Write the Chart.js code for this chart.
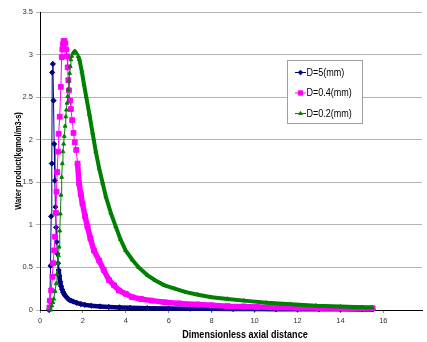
<!DOCTYPE html>
<html><head><meta charset="utf-8">
<script src="https://cdn.jsdelivr.net/npm/chart.js@4.4.1/dist/chart.umd.min.js"></script>
<style>html,body{margin:0;padding:0;background:#fff;}#wrap{width:427px;height:342px;position:relative;}</style>
</head><body><div id="wrap"><canvas id="c" width="427" height="342"></canvas></div>
<script>
const seriesLabels = ['D=5(mm)', 'D=0.4(mm)', 'D=0.2(mm)'];

const d5X = [0.42,0.46,0.49,0.52,0.55,0.57,0.60,0.63,0.66,0.69,0.72,0.75,0.78,0.81,0.84,0.87,0.90,0.94,0.98,1.03,1.08,1.14,1.20,1.28,1.36,1.45,1.55,1.70,1.90,2.10,2.40,2.80,3.20,3.70,4.20,5.00,6.00,7.00,8.00,9.00,10.0,11.0,12.0,13.0,14.0,15.0,15.5];
const d5Y = [0.00,0.10,0.52,1.10,1.72,2.79,2.89,2.46,1.95,1.52,1.21,0.97,0.80,0.66,0.55,0.47,0.40,0.33,0.28,0.24,0.21,0.18,0.16,0.14,0.12,0.11,0.10,0.085,0.07,0.06,0.05,0.042,0.036,0.03,0.026,0.022,0.018,0.016,0.014,0.012,0.011,0.010,0.009,0.008,0.008,0.007,0.007];

const d04X = [0.44,0.46,0.52,0.58,0.61,0.66,0.70,0.74,0.77,0.80,0.84,0.87,0.92,0.97,1.01,1.04,1.07,1.10,1.14,1.18,1.22,1.26,1.29,1.32,1.35,1.40,1.44,1.50,1.56,1.62,1.69,1.75,1.82,1.90,1.98,2.10,2.21,2.35,2.51,2.76,2.97,3.22,3.45,3.68,4.00,4.29,4.70,5.20,5.82,6.50,7.36,8.00,8.74,9.50,10.1,11.0,12.0,13.0,14.0,15.0,15.5];
const d04Y = [0.03,0.11,0.23,0.39,0.55,0.70,0.86,1.14,1.39,1.62,1.86,2.07,2.27,2.62,2.97,3.06,3.12,3.16,3.16,3.13,3.06,2.98,2.85,2.70,2.58,2.46,2.36,2.23,2.08,1.97,1.88,1.72,1.49,1.36,1.25,1.10,0.98,0.84,0.70,0.58,0.47,0.35,0.29,0.23,0.19,0.15,0.13,0.11,0.09,0.077,0.065,0.055,0.045,0.04,0.035,0.03,0.027,0.024,0.022,0.02,0.02];

const d02X = [0.50,0.55,0.60,0.64,0.70,0.75,0.79,0.83,0.86,0.89,0.92,0.95,0.98,1.01,1.04,1.07,1.10,1.13,1.17,1.20,1.23,1.26,1.29,1.32,1.35,1.38,1.41,1.44,1.48,1.52,1.57,1.62,1.67,1.72,1.78,1.84,1.95,2.05,2.15,2.30,2.45,2.60,2.76,2.92,3.07,3.30,3.53,3.75,3.99,4.30,4.60,5.00,5.36,5.80,6.28,6.80,7.36,8.00,8.74,9.50,10.57,11.7,12.87,14.0,15.0,15.48];
const d02Y = [0.00,0.05,0.09,0.13,0.22,0.31,0.42,0.55,0.64,0.74,0.93,1.13,1.35,1.56,1.72,1.86,1.95,2.04,2.16,2.27,2.35,2.43,2.51,2.59,2.69,2.78,2.86,2.94,2.98,3.01,3.03,3.04,3.03,3.01,2.98,2.94,2.80,2.65,2.51,2.30,2.08,1.86,1.66,1.49,1.33,1.14,0.98,0.83,0.70,0.59,0.50,0.41,0.35,0.29,0.25,0.21,0.18,0.15,0.13,0.11,0.085,0.067,0.05,0.04,0.033,0.03];

const xTickValues = [0,2,4,6,8,10,12,14,16];
const yTickValues = [0,0.5,1,1.5,2,2.5,3,3.5];
const xAxisTitle = 'Dimensionless axial distance';
const yAxisTitle = 'Water product(kgmol/m3-s)';

function pts(xs, ys) { return xs.map((x, i) => ({ x: x, y: ys[i] })); }

const colors = ['#000080', '#FF00FF', '#008000'];
const styles = ['rectRot', 'rect', 'triangle'];
const radii = [2.6, 3.4, 2.2];
const tailFrom = [0.85, 1.7, 1.75];
const tailWidth = [4.5, 5.5, 4];

const ctxC = document.getElementById('c').getContext('2d');
function hasNarrow() {
  const t = 'Dimensionless axial distance';
  ctxC.font = 'bold 11px "Liberation Sans Narrow", monospace';
  const a = ctxC.measureText(t).width;
  ctxC.font = 'bold 11px monospace';
  const b = ctxC.measureText(t).width;
  return Math.abs(a - b) > 1;
}
const NARROW = hasNarrow();
function narrowText(ctx, text, x, y, weight, size, align) {
  ctx.save();
  ctx.translate(x, y);
  if (NARROW) {
    ctx.font = weight + ' ' + size + 'px "Liberation Sans Narrow"';
  } else {
    ctx.font = weight + ' ' + size + 'px "Liberation Sans", Arial, sans-serif';
    ctx.scale(0.82, 1);
  }
  ctx.textAlign = align;
  ctx.textBaseline = 'middle';
  ctx.fillText(text, 0, 0);
  ctx.restore();
}

const xy = [pts(d5X, d5Y), pts(d04X, d04Y), pts(d02X, d02Y)];
const datasets = xy.map((d, i) => ({
  label: seriesLabels[i],
  data: d,
  borderColor: colors[i],
  backgroundColor: colors[i],
  borderWidth: 1,
  pointStyle: styles[i],
  pointRadius: radii[i],
  pointBorderWidth: 1,
  pointBorderColor: colors[i],
  pointBackgroundColor: colors[i],
  tension: 0,
  clip: false,
  order: 3 - i,
  segment: { borderWidth: c => (c.p0.parsed.x >= tailFrom[i] ? tailWidth[i] : 1) }
}));

const overlay = {
  id: 'overlay',
  afterDraw(chart) {
    const ctx = chart.ctx;
    ctx.fillStyle = '#000';
    narrowText(ctx, xAxisTitle, 245, 335, 'bold', 11, 'center');
    ctx.save();
    ctx.translate(18, 161);
    ctx.rotate(-Math.PI / 2);
    narrowText(ctx, yAxisTitle, 0, 0, 'bold', 9.2, 'center');
    ctx.restore();
    ctx.save();
    ctx.fillStyle = '#fff';
    ctx.fillRect(287, 60, 76, 64);
    ctx.strokeStyle = '#a0a0a0';
    ctx.lineWidth = 1;
    ctx.strokeRect(287.5, 60.5, 75, 63);
    const ys = [72, 92.5, 113];
    for (let i = 0; i < 3; i++) {
      ctx.strokeStyle = colors[i];
      ctx.lineWidth = 1;
      ctx.beginPath();
      ctx.moveTo(295, ys[i] + 0.5);
      ctx.lineTo(306, ys[i] + 0.5);
      ctx.stroke();
      ctx.fillStyle = colors[i];
      Chart.helpers.drawPoint(ctx, { pointStyle: styles[i], radius: radii[i] * 0.9, borderWidth: 1, rotation: 0 }, 300.5, ys[i] + 0.5);
      ctx.fillStyle = '#000';
      narrowText(ctx, seriesLabels[i], 306.5, ys[i] + 0.5, 'normal', 11, 'left');
    }
    ctx.restore();
  }
};

new Chart(ctxC, {
  type: 'line',
  data: { datasets: datasets },
  plugins: [overlay],
  options: {
    responsive: false,
    animation: false,
    devicePixelRatio: 1,
    layout: { padding: { left: 0, right: 0, top: 12, bottom: 0 } },
    plugins: { legend: { display: false }, tooltip: { enabled: false } },
    scales: {
      x: {
        type: 'linear', min: 0, max: 17.8,
        afterBuildTicks: s => { s.ticks = xTickValues.map(v => ({ value: v })); },
        afterFit: s => { s.height = 32; },
        ticks: { font: { size: 7.5, family: '"Liberation Sans", Arial' }, color: '#333', padding: 3, maxRotation: 0, autoSkip: false, callback: v => String(v) },
        grid: { drawOnChartArea: false, drawTicks: true, tickLength: 3, color: '#888' },
        border: { color: '#000', width: 1 }
      },
      y: {
        type: 'linear', min: 0, max: 3.5,
        afterBuildTicks: s => { s.ticks = yTickValues.map(v => ({ value: v })); },
        afterFit: s => { s.width = 40; },
        ticks: { font: { size: 7.5, family: '"Liberation Sans", Arial' }, color: '#333', padding: 3, autoSkip: false, callback: v => String(v) },
        grid: { color: '#b4b4b4', drawTicks: true, tickLength: 4 },
        border: { color: '#000', width: 1 }
      }
    }
  }
});
</script></body></html>
